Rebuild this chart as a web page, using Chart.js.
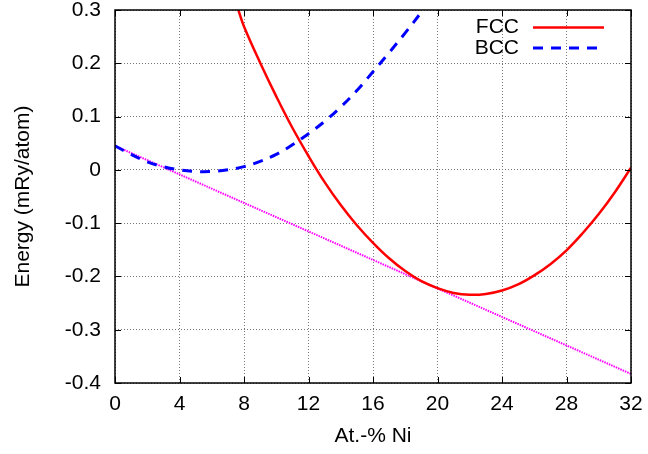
<!DOCTYPE html>
<html>
<head>
<meta charset="utf-8">
<script src="https://cdn.jsdelivr.net/npm/chart.js@4/dist/chart.umd.min.js"></script>
<style>
  html, body { margin: 0; padding: 0; background: #fff; }
  #wrap { width: 648px; height: 454px; }
</style>
</head>
<body>
<div id="wrap"><canvas id="energyChart" width="648" height="454"></canvas></div>
<script>
// FCC energy vs Ni content
const fccX = [7.65, 8, 9, 10, 11, 12, 13, 14, 15, 16, 17, 18, 19, 20, 21, 22, 23, 24, 25, 26, 27, 28, 29, 30, 31, 32];
const fccE = [0.300, 0.269, 0.201, 0.138, 0.079, 0.026, -0.023, -0.066, -0.104, -0.137, -0.166, -0.190, -0.209, -0.222, -0.231, -0.2345, -0.233, -0.2265, -0.215, -0.198, -0.177, -0.151, -0.119, -0.083, -0.042, 0.004];

// BCC energy vs Ni content
const bccX = [0, 1, 2, 3, 4, 5, 6, 7, 8, 9, 10, 11, 12, 13, 14, 15, 16, 17, 18, 19];
const bccE = [0.045, 0.029, 0.015, 0.006, 0.0, -0.003, -0.003, 0.0, 0.006, 0.016, 0.029, 0.047, 0.068, 0.091, 0.118, 0.149, 0.184, 0.220, 0.257, 0.296];

// common tangent
const tangentX = [0, 32];
const tangentE = [0.045, -0.383];

const xTicks = [0, 4, 8, 12, 16, 20, 24, 28, 32];
const yTicks = [-0.4, -0.3, -0.2, -0.1, 0, 0.1, 0.2, 0.3];

const FONT = "'Liberation Sans', Arial, sans-serif";

function toPoints(xs, ys) {
    return xs.map((x, i) => ({ x: x, y: ys[i] }));
}

// frame with inward ticks on all four sides
const framePlugin = {
    id: 'frame',
    afterDatasetsDraw(chart) {
        const { ctx, chartArea: a, scales } = chart;
        const len = 6;
        ctx.save();
        ctx.strokeStyle = '#000';
        ctx.lineWidth = 1;
        ctx.beginPath();
        xTicks.forEach(v => {
            const px = Math.round(scales.x.getPixelForValue(v)) + 0.5;
            ctx.moveTo(px, a.bottom); ctx.lineTo(px, a.bottom - len);
            ctx.moveTo(px, a.top); ctx.lineTo(px, a.top + len);
        });
        yTicks.forEach(v => {
            const py = Math.round(scales.y.getPixelForValue(v)) + 0.5;
            ctx.moveTo(a.left, py); ctx.lineTo(a.left + len, py);
            ctx.moveTo(a.right, py); ctx.lineTo(a.right - len, py);
        });
        ctx.stroke();
        ctx.lineWidth = 1.5;
        ctx.strokeRect(a.left, a.top, a.right - a.left, a.bottom - a.top);
        ctx.restore();
    }
};

// gnuplot-style key: label on the left, line sample on the right
const keyPlugin = {
    id: 'key',
    afterDraw(chart) {
        const ctx = chart.ctx;
        const textRight = 519, lineStart = 533, lineEnd = 604;
        const rows = [27.5, 48];
        ctx.save();
        ctx.font = '21px ' + FONT;
        ctx.textAlign = 'right';
        ctx.textBaseline = 'middle';
        chart.data.datasets.filter(ds => ds.label).forEach((ds, i) => {
            const y = rows[i];
            ctx.fillStyle = '#000';
            ctx.fillText(ds.label, textRight, y);
            ctx.strokeStyle = ds.borderColor;
            ctx.lineWidth = ds.borderWidth;
            ctx.setLineDash(ds.borderDash || []);
            ctx.beginPath();
            ctx.moveTo(lineStart, y);
            ctx.lineTo(lineEnd, y);
            ctx.stroke();
        });
        ctx.restore();
    }
};

const ctx = document.getElementById('energyChart').getContext('2d');
new Chart(ctx, {
    type: 'line',
    data: {
        datasets: [
            {
                label: 'FCC',
                data: toPoints(fccX, fccE),
                borderColor: '#ff0000',
                borderWidth: 2.5,
                pointRadius: 0,
                tension: 0.4
            },
            {
                label: 'BCC',
                data: toPoints(bccX, bccE),
                borderColor: '#0000ff',
                borderWidth: 3,
                borderDash: [10, 8],
                pointRadius: 0,
                tension: 0.4
            },
            {
                label: '',
                data: toPoints(tangentX, tangentE),
                borderColor: '#ff00ff',
                borderWidth: 2,
                borderDash: [1.5, 1],
                pointRadius: 0
            }
        ]
    },
    options: {
        responsive: false,
        animation: false,
        layout: { padding: { left: 11, top: 10, right: 17, bottom: 5 } },
        plugins: {
            legend: { display: false },
            tooltip: { enabled: false }
        },
        scales: {
            x: {
                type: 'linear',
                min: 0,
                max: 32,
                afterBuildTicks: scale => { scale.ticks = xTicks.map(v => ({ value: v })); },
                afterFit: scale => {
                    scale.height = 66;
                    scale.paddingLeft = 0;
                    scale.paddingRight = 0;
                },
                grid: { color: '#777', lineWidth: 1, drawTicks: false },
                border: { display: false, dash: [1, 2] },
                ticks: {
                    color: '#000',
                    padding: 9,
                    maxRotation: 0,
                    autoSkip: false,
                    font: { family: FONT, size: 21 }
                },
                title: {
                    display: true,
                    text: 'At.-% Ni',
                    color: '#000',
                    padding: 0,
                    font: { family: FONT, size: 21 }
                }
            },
            y: {
                min: -0.4,
                max: 0.3,
                afterBuildTicks: scale => { scale.ticks = yTicks.map(v => ({ value: v })); },
                afterFit: scale => {
                    scale.width = 104;
                    scale.paddingTop = 0;
                    scale.paddingBottom = 0;
                },
                grid: { color: '#777', lineWidth: 1, drawTicks: false },
                border: { display: false, dash: [1, 2] },
                ticks: {
                    color: '#000',
                    padding: 14,
                    autoSkip: false,
                    font: { family: FONT, size: 21 },
                    callback: v => parseFloat(v.toFixed(1)).toString()
                },
                title: {
                    display: true,
                    text: 'Energy (mRy/atom)',
                    color: '#000',
                    padding: 0,
                    font: { family: FONT, size: 21 }
                }
            }
        }
    },
    plugins: [framePlugin, keyPlugin]
});
</script>
</body>
</html>
